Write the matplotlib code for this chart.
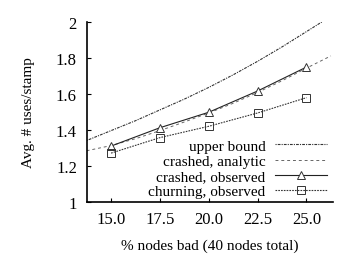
import numpy as np
import matplotlib
matplotlib.use('Agg')
import matplotlib.pyplot as plt

plt.rcParams.update({'font.size': 11, 'font.family': 'Liberation Serif'})

# curves
x_curve = [13.75, 15, 16.25, 17.5, 18.75, 20, 21.25, 22.5, 23.75, 25, 26.25]
upper_bound = [1.34, 1.395, 1.45, 1.51, 1.57, 1.635, 1.705, 1.78, 1.86, 1.945, 2.03]
crashed_analytic = [1.283, 1.312, 1.35, 1.395, 1.443, 1.493, 1.547, 1.607, 1.672, 1.742, 1.81]

# observed points
pct_bad = [15.0, 17.5, 20.0, 22.5, 25.0]
crashed_obs = [1.309, 1.411, 1.497, 1.615, 1.748]
churning_obs = [1.27, 1.356, 1.419, 1.493, 1.578]

fig = plt.figure(figsize=(3.61, 2.55), dpi=100)
ax = fig.add_axes([0.240, 0.205, 0.682, 0.706])

ax.plot(x_curve, upper_bound, color='#333333', lw=0.8, ls=(0, (1, 1, 2.5, 1)),
        label='upper bound')
ax.plot(x_curve, crashed_analytic, color='#666666', lw=0.7, ls=(0, (3, 3)),
        label='crashed, analytic')
ax.plot(pct_bad, crashed_obs, color='#222222', lw=0.8, marker='^', ms=6,
        mfc='white', mec='#333333', mew=0.7, label='crashed, observed')
ax.plot(pct_bad, churning_obs, color='#333333', lw=0.8, ls=(0, (1.5, 1)),
        marker='s', ms=6, mfc='none', mec='#333333', mew=0.7,
        label='churning, observed')

ax.set_xlim(13.75, 26.35)
ax.set_ylim(1, 2)
ax.set_xticks(pct_bad)
ax.set_xticklabels(['15.0', '17.5', '20.0', '22.5', '25.0'])
ax.set_yticks([1, 1.2, 1.4, 1.6, 1.8, 2])
ax.set_yticklabels(['1', '1.2', '1.4', '1.6', '1.8', '2'])
ax.tick_params(direction='in', length=3, width=0.8, pad=7, labelsize=12)
for s in ['top', 'right']:
    ax.spines[s].set_visible(False)
for s in ['left', 'bottom']:
    ax.spines[s].set_linewidth(1.2)

ax.set_xlabel('% nodes bad (40 nodes total)', labelpad=8)
ax.set_ylabel('Avg. # uses/stamp', labelpad=15)

ax.legend(loc='lower right', bbox_to_anchor=(1.0, -0.015), frameon=False,
          markerfirst=False, handlelength=3.4, handletextpad=0.6,
          labelspacing=0.1, borderaxespad=0, fontsize=11)

fig.savefig('out.png', dpi=100)
